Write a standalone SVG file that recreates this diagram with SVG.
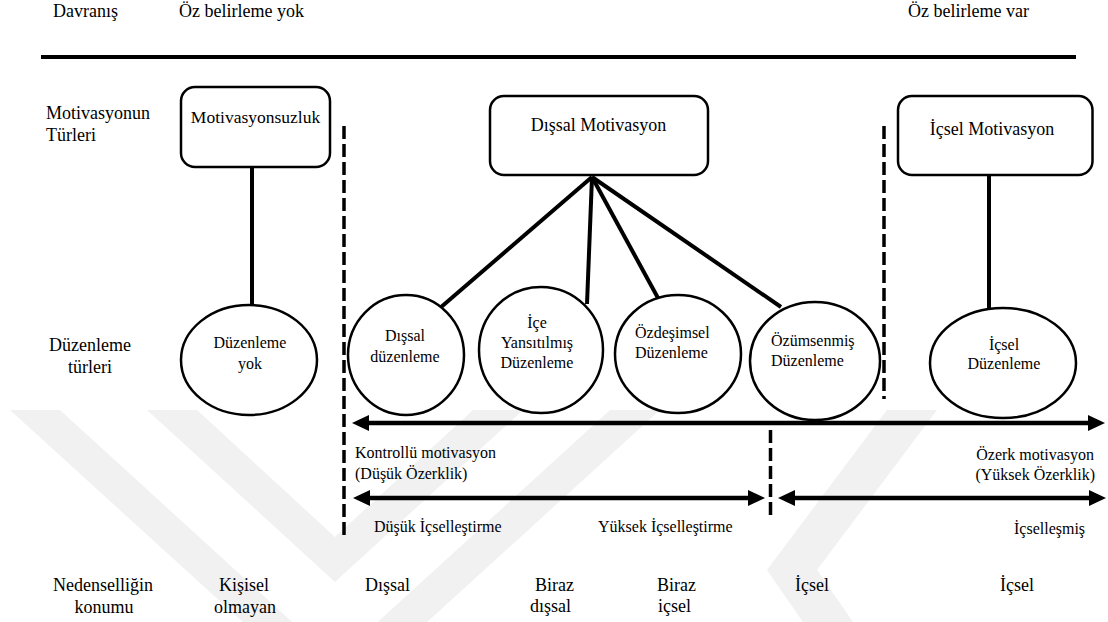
<svg xmlns="http://www.w3.org/2000/svg" width="1108" height="622" viewBox="0 0 1108 622">
  <defs>
    <style>
      .lg { font-size: 18px; }
      .md { font-size: 16px; }
      .mid { text-anchor: middle; }
      .end { text-anchor: end; }
      .box { fill: #fff; stroke: #000; stroke-width: 2.5; }
      .reg { fill: #fff; stroke: #000; stroke-width: 2.5; }
      .link { stroke: #000; stroke-width: 4; fill: none; }
      .dash { stroke: #000; stroke-width: 3.5; stroke-dasharray: 13 5; fill: none; }
      .axis { stroke: #000; stroke-width: 4.5; fill: none; marker-start: url(#head); marker-end: url(#head); }
      .emblem { fill: #f1f1f1; }
    </style>
    <marker id="head" markerUnits="userSpaceOnUse" markerWidth="17" markerHeight="16" refX="4" refY="8" orient="auto-start-reverse" viewBox="0 0 17 16">
      <path d="M0,0 L17,8 L0,16 z" fill="#000"/>
    </marker>
    <clipPath id="emblem-clip">
      <rect x="0" y="410" width="1108" height="212"/>
    </clipPath>
  </defs>

  <rect x="0" y="0" width="1108" height="622" fill="#fff"/>

  <!-- faint background emblem -->
  <g id="emblem" class="emblem" clip-path="url(#emblem-clip)">
    <polygon points="10,410 335,706 660,410 610,410 335,661 60,410"/>
    <polygon points="147,410 335,582 523,410 473,410 335,537 197,410"/>
    <polygon points="767,570 887,410 937,410 817,570 900,690 850,690"/>
  </g>

  <g font-family="Liberation Serif, Times New Roman, DejaVu Serif, serif" fill="#000">
  <!-- header -->
  <g id="header">
    <text class="lg" x="53" y="17">Davranış</text>
    <text class="lg" x="179" y="17">Öz belirleme yok</text>
    <text class="lg" x="908" y="17">Öz belirleme var</text>
    <line x1="41" y1="57" x2="1076" y2="57" stroke="#000" stroke-width="4"/>
  </g>

  <!-- row labels -->
  <g id="row-labels">
    <text class="lg" x="46" y="119">Motivasyonun</text>
    <text class="lg" x="46" y="141">Türleri</text>
    <text class="lg mid" x="90" y="351">Düzenleme</text>
    <text class="lg mid" x="90" y="373">türleri</text>
    <text class="lg" x="53" y="591">Nedenselliğin</text>
    <text class="lg mid" x="104" y="613">konumu</text>
  </g>

  <!-- connectors -->
  <g id="connectors">
    <line class="link" x1="252" y1="167" x2="252" y2="306"/>
    <line class="link" x1="592" y1="177" x2="440" y2="308"/>
    <line class="link" x1="592" y1="177" x2="587" y2="304"/>
    <line class="link" x1="592" y1="177" x2="658" y2="298"/>
    <line class="link" x1="592" y1="177" x2="781" y2="307"/>
    <line class="link" x1="989" y1="175" x2="989" y2="309"/>
    <line class="dash" x1="344" y1="126" x2="344" y2="540"/>
    <line class="dash" x1="884" y1="126" x2="884" y2="399"/>
    <line class="dash" x1="770.5" y1="430" x2="770.5" y2="516"/>
    <line class="axis" x1="365" y1="423" x2="1092" y2="423"/>
    <line class="axis" x1="366" y1="498" x2="752" y2="498"/>
    <line class="axis" x1="791" y1="498" x2="1093" y2="498"/>
  </g>

  <!-- motivation types -->
  <g id="amotivation">
    <rect class="box" x="181" y="87" width="149" height="80" rx="14"/>
    <text class="mid" x="255.5" y="123" font-size="17.5">Motivasyonsuzluk</text>
  </g>
  <g id="extrinsic-motivation">
    <rect class="box" x="490" y="96" width="218" height="79" rx="14"/>
    <text class="lg mid" x="598.5" y="131">Dışsal Motivasyon</text>
  </g>
  <g id="intrinsic-motivation">
    <rect class="box" x="898" y="96" width="194.5" height="79" rx="14"/>
    <text class="lg mid" x="992" y="135">İçsel Motivasyon</text>
  </g>

  <!-- regulation types -->
  <g id="no-regulation">
    <ellipse class="reg" cx="249" cy="360" rx="68" ry="55"/>
    <text class="md mid" x="250" y="348">Düzenleme</text>
    <text class="md mid" x="250" y="369">yok</text>
  </g>
  <g id="external-regulation">
    <ellipse class="reg" cx="406" cy="355" rx="58" ry="60"/>
    <text class="md mid" x="405" y="341">Dışsal</text>
    <text class="md mid" x="405" y="362">düzenleme</text>
  </g>
  <g id="introjected-regulation">
    <ellipse class="reg" cx="541" cy="350" rx="62" ry="63"/>
    <text class="md mid" x="537" y="328">İçe</text>
    <text class="md mid" x="537" y="348">Yansıtılmış</text>
    <text class="md mid" x="537" y="368">Düzenleme</text>
  </g>
  <g id="identified-regulation">
    <ellipse class="reg" cx="678" cy="354" rx="63" ry="59"/>
    <text class="md" x="635" y="338">Özdeşimsel</text>
    <text class="md" x="635" y="358">Düzenleme</text>
  </g>
  <g id="integrated-regulation">
    <ellipse class="reg" cx="815" cy="361" rx="65" ry="59"/>
    <text class="md" x="771" y="346">Özümsenmiş</text>
    <text class="md" x="771" y="366">Düzenleme</text>
  </g>
  <g id="intrinsic-regulation">
    <ellipse class="reg" cx="1003" cy="363" rx="73" ry="55"/>
    <text class="md mid" x="1004" y="350">İçsel</text>
    <text class="md mid" x="1004" y="369">Düzenleme</text>
  </g>

  <!-- autonomy and internalisation labels -->
  <g id="axis-labels">
    <text class="md" x="355" y="458">Kontrollü motivasyon</text>
    <text class="md" x="355" y="479">(Düşük Özerklik)</text>
    <text class="md end" x="1094" y="460">Özerk motivasyon</text>
    <text class="md end" x="1095" y="480">(Yüksek Özerklik)</text>
    <text class="md" x="374" y="532">Düşük İçselleştirme</text>
    <text class="md" x="598" y="532">Yüksek İçselleştirme</text>
    <text class="md" x="1014" y="534">İçselleşmiş</text>
  </g>

  <!-- locus of causality -->
  <g id="locus">
    <text class="lg mid" x="244" y="591">Kişisel</text>
    <text class="lg mid" x="245" y="613">olmayan</text>
    <text class="lg" x="365" y="591">Dışsal</text>
    <text class="lg" x="535" y="591">Biraz</text>
    <text class="lg" x="530" y="612">dışsal</text>
    <text class="lg" x="657" y="591">Biraz</text>
    <text class="lg" x="658" y="612">içsel</text>
    <text class="lg" x="795" y="591">İçsel</text>
    <text class="lg" x="1000" y="591">İçsel</text>
  </g>
  </g>
</svg>
